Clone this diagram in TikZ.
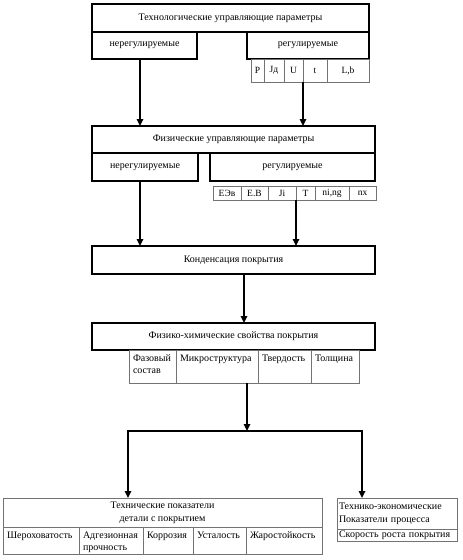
\documentclass[tikz,border=0pt]{standalone}
\usepackage{fontspec}
\setmainfont{Liberation Serif}
\usetikzlibrary{arrows.meta}
\tikzset{
  hbox/.style={draw, line width=1.8pt, inner sep=0pt, outer sep=0pt, anchor=north west, align=center, font=\fontsize{10}{12.5}\selectfont},
  cellbox/.style={draw=black!55, line width=0.6pt, inner sep=0pt, outer sep=0pt, anchor=north west, align=center, font=\fontsize{9.5}{12}\selectfont},
  tcell/.style={draw=black!55, line width=0.6pt, inner sep=0pt, outer sep=0pt, anchor=north west, font=\fontsize{10}{12.8}\selectfont},
  arr/.style={line width=1.6pt, -{Triangle[length=7pt,width=6.5pt]}},
  ln/.style={line width=1.6pt},
}
\newcommand{\TB}[3]{\parbox[c][#2pt][t]{#1pt}{\raggedright\leftskip=4pt\relax\rule{0pt}{11pt}#3}}
\begin{document}
\begin{tikzpicture}[x=1pt,y=-1pt]
\useasboundingbox (0,0) rectangle (463,560);
% ---- technological parameters
\node[hbox, minimum width=277pt, minimum height=28pt] (tech) at (92,4) {Технологические управляющие параметры};
\node[hbox, minimum width=105pt, minimum height=27pt] (tn) at (92,32) {нерегулируемые};
\node[hbox, minimum width=122pt, minimum height=27pt] (tr) at (247,32) {регулируемые};
\node[cellbox, minimum width=13pt, minimum height=23pt] (tP) at (251,59) {P};
\node[cellbox, minimum width=20pt, minimum height=23pt] (tJ) at (264,59) {Jд};
\node[cellbox, minimum width=19pt, minimum height=23pt] (tU) at (284,59) {U};
\node[cellbox, minimum width=24pt, minimum height=23pt] (tt) at (303,59) {t};
\node[cellbox, minimum width=42pt, minimum height=23pt] (tL) at (327,59) {L,b};
% ---- physical parameters
\node[hbox, minimum width=283pt, minimum height=27pt] (phys) at (92,126) {Физические управляющие параметры};
\node[hbox, minimum width=106pt, minimum height=28pt] (pn) at (92,153) {нерегулируемые};
\node[hbox, minimum width=165pt, minimum height=28pt] (pr) at (210,153) {регулируемые};
\node[cellbox, minimum width=28pt, minimum height=14pt] (pE) at (213,186) {ЕЭв};
\node[cellbox, minimum width=27pt, minimum height=14pt] (pEB) at (241,186) {Е.В};
\node[cellbox, minimum width=28pt, minimum height=14pt] (pJ) at (268,186) {Ji};
\node[cellbox, minimum width=19pt, minimum height=14pt] (pT) at (296,186) {Т};
\node[cellbox, minimum width=34pt, minimum height=14pt] (pni) at (315,186) {ni,ng};
\node[cellbox, minimum width=27pt, minimum height=14pt] (pnx) at (349,186) {nx};
% ---- condensation
\node[hbox, minimum width=283pt, minimum height=28pt] (cond) at (92,246) {Конденсация покрытия};
% ---- physico-chemical
\node[hbox, minimum width=283pt, minimum height=27pt] (pc) at (92,323) {Физико-химические свойства покрытия};
\node[tcell] (m1) at (129,350) {\TB{47}{33}{Фазовый\\состав}};
\node[tcell] (m2) at (176,350) {\TB{82}{33}{Микроструктура}};
\node[tcell] (m3) at (258,350) {\TB{53}{33}{Твердость}};
\node[tcell] (m4) at (311,350) {\TB{48}{33}{Толщина}};
% ---- technical indicators
\node[tcell, align=center, minimum width=319pt, minimum height=29pt] (tp) at (3,498) {Технические показатели\\детали с покрытием};
\node[tcell] (b1) at (3,527) {\TB{76}{27}{Шероховатость}};
\node[tcell] (b2) at (79,527) {\TB{64}{27}{Адгезионная\\прочность}};
\node[tcell] (b3) at (143,527) {\TB{50}{27}{Коррозия}};
\node[tcell] (b4) at (193,527) {\TB{53}{27}{Усталость}};
\node[tcell] (b5) at (246,527) {\TB{76}{27}{Жаростойкость}};
% ---- economic indicators
\node[tcell, align=left, text width=116pt, inner xsep=2pt, minimum height=31pt] (te) at (337,498) {Технико-экономические\\Показатели процесса};
\node[tcell, align=left, text width=116pt, inner xsep=2pt, minimum height=12pt] (ts) at (337,529) {Скорость роста покрытия};
% ---- connectors
\coordinate (cL) at (140,0);
\coordinate (cC) at (244,0);
\coordinate (j) at (247,431);
\coordinate (jl) at (128,431);
\coordinate (jr) at (362,431);
\draw[arr] (tn.south -| cL) -- (phys.north -| cL);
\draw[arr] (tU.south east) -- (phys.north -| tU.south east);
\draw[arr] (pn.south -| cL) -- (cond.north -| cL);
\draw[arr] (pT.south west) -- (cond.north -| pT.south west);
\draw[arr] (cond.south -| cC) -- (pc.north -| cC);
\draw[arr] (m2.south -| j) -- (j);
\draw[ln, line cap=rect] (jl) -- (jr);
\draw[arr] (jl) -- (tp.north -| jl);
\draw[arr] (jr) -- (te.north -| jr);
\end{tikzpicture}
\end{document}
